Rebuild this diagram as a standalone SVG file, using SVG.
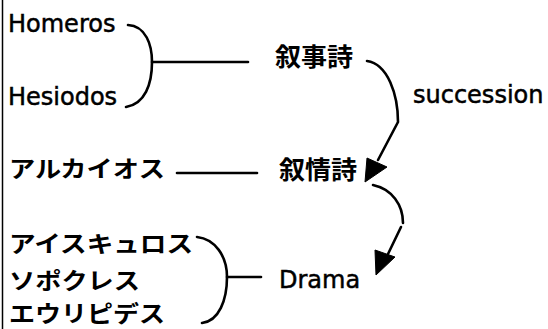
<svg xmlns="http://www.w3.org/2000/svg" width="548" height="329" viewBox="0 0 548 329">
<style>
.lat{font-family:"DejaVu Sans","Liberation Sans",sans-serif;font-size:24px;fill:#000;stroke:#000;stroke-width:0.5}
.jp{font-family:"Noto Sans CJK JP","Noto Sans CJK SC",sans-serif;font-size:23px;font-weight:bold;fill:#000}
.kj{font-family:"Noto Sans CJK JP","Noto Sans CJK SC",sans-serif;font-size:25px;font-weight:bold;fill:#000}
.ln{fill:none;stroke:#000;stroke-width:2.6;stroke-linecap:round}
.ah{fill:#000;stroke:#000;stroke-width:1;stroke-linejoin:round}
</style>
<rect width="548" height="329" fill="#fff"/>
<line x1="2.5" y1="0" x2="2.5" y2="329" stroke="#000" stroke-width="1.5"/>
<g id="homeros"><text class="lat" x="8" y="32">Homeros</text></g>
<g id="hesiodos"><text class="lat" x="8" y="105">Hesiodos</text></g>
<g id="jojishi"><text class="kj" x="275" y="66" textLength="78" lengthAdjust="spacingAndGlyphs">叙事詩</text></g>
<g id="succession"><text class="lat" x="413" y="103">succession</text></g>
<g id="alkaios"><text class="jp" x="9" y="177" textLength="156" lengthAdjust="spacingAndGlyphs">アルカイオス</text></g>
<g id="jojoshi"><text class="kj" x="279" y="179" textLength="78" lengthAdjust="spacingAndGlyphs">叙情詩</text></g>
<g id="aischylos"><text class="jp" x="9" y="252" textLength="184" lengthAdjust="spacingAndGlyphs">アイスキュロス</text></g>
<g id="sophocles"><text class="jp" x="9" y="289" textLength="131" lengthAdjust="spacingAndGlyphs">ソポクレス</text></g>
<g id="euripides"><text class="jp" x="9" y="322" textLength="156" lengthAdjust="spacingAndGlyphs">エウリピデス</text></g>
<g id="drama"><text class="lat" x="279" y="288">Drama</text></g>
<g id="connectors">
<path class="ln" d="M128,25 C146,26 152,45 152,62 C152,84 145,104 126,107"/>
<line class="ln" x1="152" y1="62" x2="248" y2="62"/>
<line class="ln" x1="177" y1="173" x2="257" y2="173"/>
<path class="ln" d="M197,237 C215,239 227,256 227,277 C227,300 219,321 202,323"/>
<line class="ln" x1="227" y1="277" x2="261" y2="277"/>
<path class="ln" d="M367,61 C388,64 398,95 398,122 L378,160"/>
<polygon class="ah" points="367,158 387,167 365,182"/>
<path class="ln" d="M373,185 C392,189 403,205 403,223"/>
<line class="ln" x1="401" y1="227" x2="388" y2="254"/>
<polygon class="ah" points="375,250 395,257 376,275"/>
</g>
</svg>
